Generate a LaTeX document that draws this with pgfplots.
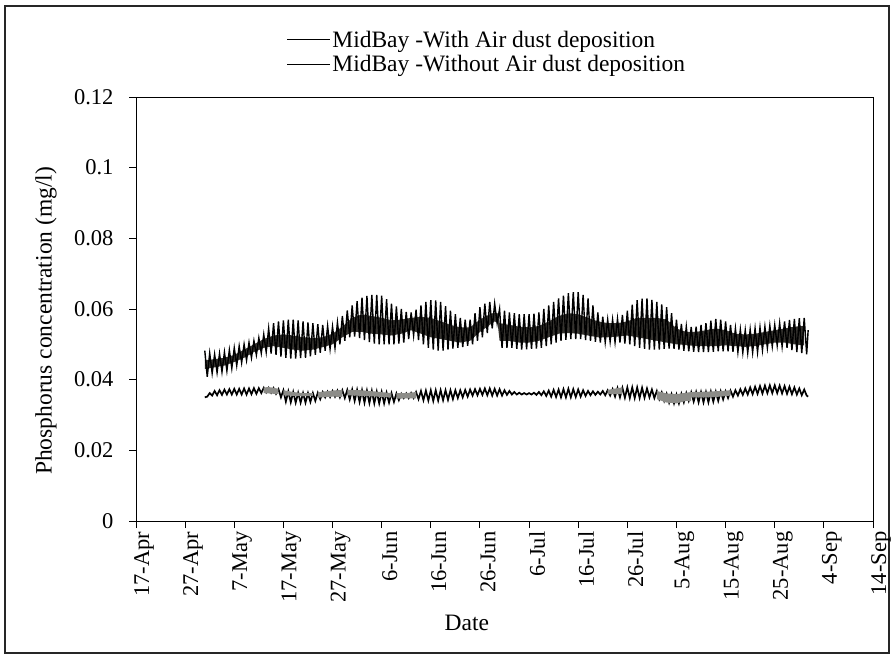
\documentclass[border=0pt]{standalone}
\usepackage{pgfplots}
\pgfplotsset{compat=1.18}
\usepackage{fontspec}
\setmainfont{Liberation Serif}
\newcommand{\fs}{\fontsize{22.5bp}{26bp}\selectfont}
\newcommand{\fl}{\fontsize{23.5bp}{27bp}\selectfont}
\definecolor{coregray}{HTML}{35332F}
\definecolor{lgray}{HTML}{8C8C88}
\begin{document}
\begin{tikzpicture}
\useasboundingbox (0,0) rectangle (891bp,656bp);
\draw[line width=2bp, black!85] (5bp,650bp) rectangle (889bp,3bp);
\begin{axis}[
  at={(136bp,135bp)}, anchor=south west,
  scale only axis, width=737bp, height=424bp,
  xmin=0, xmax=150, ymin=0, ymax=0.12,
  xtick={0,10,20,30,40,50,60,70,80,90,100,110,120,130,140,150},
  xticklabels={17-Apr,27-Apr,7-May,17-May,27-May,6-Jun,16-Jun,26-Jun,6-Jul,16-Jul,26-Jul,5-Aug,15-Aug,25-Aug,4-Sep,14-Sep},
  ytick={0,0.02,0.04,0.06,0.08,0.1,0.12},
  yticklabels={0,0.02,0.04,0.06,0.08,0.1,0.12},
  tick pos=left, tick align=outside, major tick length=7bp,
  axis line style={line width=0.9bp},
  tick style={line width=0.9bp, black},
  xticklabel style={rotate=90, anchor=east, font=\fs, yshift=-8bp},
  yticklabel style={font=\fs, xshift=-12bp},
  xlabel={Date}, ylabel={Phosphorus concentration (mg/l)},
  x label style={at={(axis description cs:0.449,0)}, anchor=center, yshift=-102bp, font=\fl},
  y label style={at={(axis description cs:-0.1221,0.472)}, anchor=center, font=\fl},
  legend style={at={(0.2,1.165)}, anchor=north west, draw=none, fill=none, font=\fl,
    row sep=4bp, nodes={inner sep=1.5bp}},
  legend cell align=left,
  legend image code/.code={\draw[#1, line width=1.3bp] (0bp,0bp) -- (43bp,0bp);},
]
\addlegendimage{black}
\addlegendimage{black}
% upper core band
\addplot[fill=coregray, draw=none, forget plot] coordinates {
(14,.0455)(16,.0458)(18,.0462)(20,.0470)(22,.0485)(24,.0500)(26,.0515)(28,.0525)(30,.0528)(32,.0525)(34,.0520)(36,.0518)(38,.0520)(40,.0530)(42,.0550)(44,.0575)(46,.0585)(48,.0580)(50,.0575)(52,.0568)(54,.0570)(56,.0575)(58,.0578)(60,.0575)(62,.0565)(64,.0555)(66,.0548)(68,.0548)(70,.0570)(72,.0585)(73,.0590)(73.6,.0588)(74,.0560)(76,.0555)(78,.0550)(80,.0548)(82,.0552)(84,.0565)(86,.0580)(88,.0588)(90,.0585)(92,.0575)(94,.0565)(96,.0560)(98,.0560)(100,.0565)(102,.0575)(104,.0575)(106,.0575)(108,.0570)(110,.0545)(112,.0535)(114,.0535)(116,.0540)(118,.0545)(120,.0540)(122,.0530)(124,.0528)(126,.0530)(128,.0535)(130,.0540)(132,.0545)(134,.0550)(136,.0552)
(136,.0497)(134,.0500)(132,.0505)(130,.0505)(128,.0500)(126,.0495)(124,.0493)(122,.0495)(120,.0497)(118,.0495)(116,.0495)(114,.0495)(112,.0498)(110,.0500)(108,.0505)(106,.0510)(104,.0515)(102,.0520)(100,.0525)(98,.0522)(96,.0520)(94,.0520)(92,.0525)(90,.0530)(88,.0532)(86,.0530)(84,.0520)(82,.0510)(80,.0505)(78,.0505)(76,.0510)(74,.0510)(73.6,.0560)(73,.0565)(72,.0555)(70,.0535)(68,.0510)(66,.0505)(64,.0510)(62,.0515)(60,.0520)(58,.0530)(56,.0540)(54,.0530)(52,.0525)(50,.0528)(48,.0530)(46,.0535)(44,.0535)(42,.0520)(40,.0500)(38,.0492)(36,.0485)(34,.0482)(32,.0485)(30,.0490)(28,.0495)(26,.0490)(24,.0478)(22,.0462)(20,.0450)(18,.0440)(16,.0435)(14,.0430)};
% upper series (with air dust deposition)
\addplot[black, line width=1.4bp, forget plot] coordinates {
(14,.0482)(14.5,.0408)(15,.0475)(15.5,.0418)(16,.0472)(16.5,.0420)(17,.0474)(17.5,.0422)(18,.0478)(18.5,.0425)(19,.0484)(19.5,.0432)(20,.0490)(20.5,.0440)(21,.0495)(21.5,.0448)(22,.0500)(22.5,.0455)(23,.0505)(23.5,.0462)(24,.0510)(24.5,.0470)(25,.0518)(25.5,.0475)(26,.0528)(26.5,.0478)(27,.0545)(27.5,.0474)(28,.0560)(28.5,.0470)(29,.0565)(29.5,.0465)(30,.0568)(30.5,.0462)(31,.0570)(31.5,.0460)(32,.0570)(32.5,.0460)(33,.0568)(33.5,.0461)(34,.0565)(34.5,.0462)(35,.0562)(35.5,.0466)(36,.0560)(36.5,.0470)(37,.0557)(37.5,.0476)(38,.0555)(38.5,.0482)(39,.0552)(39.5,.0487)(40,.0550)(40.5,.0490)(41,.0562)(41.5,.0500)(42,.0580)(42.5,.0510)(43,.0596)(43.5,.0520)(44,.0610)(44.5,.0522)(45,.0622)(45.5,.0518)(46,.0632)(46.5,.0512)(47,.0637)(47.5,.0506)(48,.0640)(48.5,.0502)(49,.0640)(49.5,.0500)(50,.0638)(50.5,.0500)(51,.0628)(51.5,.0500)(52,.0615)(52.5,.0500)(53,.0607)(53.5,.0502)(54,.0600)(54.5,.0505)(55,.0592)(55.5,.0515)(56,.0590)(56.5,.0525)(57,.0598)(57.5,.0512)(58,.0610)(58.5,.0500)(59,.0620)(59.5,.0490)(60,.0625)(60.5,.0485)(61,.0624)(61.5,.0482)(62,.0620)(62.5,.0482)(63,.0608)(63.5,.0485)(64,.0595)(64.5,.0488)(65,.0585)(65.5,.0490)(66,.0575)(66.5,.0492)(67,.0570)(67.5,.0496)(68,.0570)(68.5,.0500)(69,.0588)(69.5,.0510)(70,.0605)(70.5,.0520)(71,.0615)(71.5,.0532)(72,.0620)(72.5,.0545)(73,.0615)(73.5,.0560)(74,.0600)(74.5,.0490)(75,.0595)(75.5,.0490)(76,.0590)(76.5,.0490)(77,.0588)(77.5,.0487)(78,.0585)(78.5,.0485)(79,.0585)(79.5,.0486)(80,.0585)(80.5,.0487)(81,.0587)(81.5,.0488)(82,.0590)(82.5,.0490)(83,.0600)(83.5,.0495)(84,.0610)(84.5,.0500)(85,.0620)(85.5,.0505)(86,.0630)(86.5,.0510)(87,.0638)(87.5,.0513)(88,.0645)(88.5,.0515)(89,.0648)(89.5,.0515)(90,.0648)(90.5,.0515)(91,.0640)(91.5,.0512)(92,.0630)(92.5,.0510)(93,.0610)(93.5,.0507)(94,.0590)(94.5,.0505)(95,.0578)(95.5,.0506)(96,.0570)(96.5,.0508)(97,.0570)(97.5,.0506)(98,.0572)(98.5,.0505)(99,.0583)(99.5,.0502)(100,.0595)(100.5,.0500)(101,.0612)(101.5,.0495)(102,.0625)(102.5,.0490)(103,.0629)(103.5,.0487)(104,.0630)(104.5,.0485)(105,.0626)(105.5,.0485)(106,.0620)(106.5,.0485)(107,.0613)(107.5,.0487)(108,.0605)(108.5,.0488)(109,.0588)(109.5,.0487)(110,.0570)(110.5,.0485)(111,.0558)(111.5,.0482)(112,.0550)(112.5,.0480)(113,.0549)(113.5,.0479)(114,.0550)(114.5,.0478)(115,.0555)(115.5,.0478)(116,.0560)(116.5,.0478)(117,.0567)(117.5,.0479)(118,.0572)(118.5,.0480)(119,.0570)(119.5,.0480)(120,.0565)(120.5,.0480)(121,.0555)(121.5,.0479)(122,.0545)(122.5,.0478)(123,.0542)(123.5,.0477)(124,.0540)(124.5,.0476)(125,.0542)(125.5,.0477)(126,.0545)(126.5,.0478)(127,.0548)(127.5,.0484)(128,.0550)(128.5,.0490)(129,.0553)(129.5,.0494)(130,.0555)(130.5,.0497)(131,.0560)(131.5,.0494)(132,.0565)(132.5,.0490)(133,.0569)(133.5,.0484)(134,.0572)(134.5,.0478)(135,.0574)(135.5,.0475)(136,.0575)(136.5,.0472)(136.8,.0540)};
% lower series (without air dust deposition)
\addplot[black, line width=1.7bp, forget plot] coordinates {
(14,.0350)(14.5,.0352)(15,.0362)(15.5,.0355)(16,.0368)(16.5,.0356)(17,.0370)(17.5,.0357)(18,.0372)(18.5,.0358)(19,.0373)(19.5,.0358)(20,.0374)(20.5,.0358)(21,.0374)(21.5,.0358)(22,.0375)(22.5,.0358)(23,.0375)(23.5,.0359)(24,.0376)(24.5,.0360)(25,.0376)(25.5,.0362)(26,.0377)(26.5,.0364)(27,.0377)(27.5,.0363)(28,.0376)(28.5,.0360)(29,.0373)(29.5,.0350)(30,.0370)(30.5,.0338)(31,.0367)(31.5,.0336)(32,.0365)(32.5,.0335)(33,.0363)(33.5,.0335)(34,.0362)(34.5,.0335)(35,.0362)(35.5,.0337)(36,.0362)(36.5,.0340)(37,.0363)(37.5,.0345)(38,.0365)(38.5,.0350)(39,.0366)(39.5,.0351)(40,.0368)(40.5,.0352)(41,.0369)(41.5,.0350)(42,.0370)(42.5,.0348)(43,.0371)(43.5,.0344)(44,.0372)(44.5,.0340)(45,.0371)(45.5,.0337)(46,.0370)(46.5,.0335)(47,.0369)(47.5,.0334)(48,.0368)(48.5,.0333)(49,.0366)(49.5,.0333)(50,.0365)(50.5,.0333)(51,.0363)(51.5,.0335)(52,.0362)(52.5,.0337)(53,.0361)(53.5,.0342)(54,.0360)(54.5,.0348)(55,.0361)(55.5,.0348)(56,.0362)(56.5,.0348)(57,.0365)(57.5,.0345)(58,.0368)(58.5,.0342)(59,.0369)(59.5,.0341)(60,.0370)(60.5,.0340)(61,.0370)(61.5,.0341)(62,.0370)(62.5,.0342)(63,.0370)(63.5,.0343)(64,.0370)(64.5,.0345)(65,.0370)(65.5,.0348)(66,.0370)(66.5,.0350)(67,.0371)(67.5,.0352)(68,.0372)(68.5,.0355)(69,.0373)(69.5,.0356)(70,.0374)(70.5,.0357)(71,.0375)(71.5,.0356)(72,.0375)(72.5,.0355)(73,.0374)(73.5,.0355)(74,.0373)(74.5,.0355)(75,.0370)(75.5,.0357)(76,.0368)(76.5,.0358)(77,.0365)(77.5,.0358)(78,.0363)(78.5,.0358)(79,.0362)(79.5,.0358)(80,.0362)(80.5,.0358)(81,.0363)(81.5,.0357)(82,.0365)(82.5,.0356)(83,.0367)(83.5,.0354)(84,.0369)(84.5,.0352)(85,.0371)(85.5,.0351)(86,.0372)(86.5,.0350)(87,.0373)(87.5,.0350)(88,.0374)(88.5,.0350)(89,.0373)(89.5,.0351)(90,.0372)(90.5,.0352)(91,.0370)(91.5,.0354)(92,.0368)(92.5,.0356)(93,.0367)(93.5,.0357)(94,.0366)(94.5,.0358)(95,.0368)(95.5,.0356)(96,.0370)(96.5,.0355)(97,.0373)(97.5,.0352)(98,.0376)(98.5,.0350)(99,.0377)(99.5,.0349)(100,.0378)(100.5,.0348)(101,.0378)(101.5,.0348)(102,.0378)(102.5,.0348)(103,.0377)(103.5,.0349)(104,.0375)(104.5,.0350)(105,.0372)(105.5,.0348)(106,.0368)(106.5,.0345)(107,.0364)(107.5,.0340)(108,.0360)(108.5,.0335)(109,.0359)(109.5,.0333)(110,.0358)(110.5,.0333)(111,.0360)(111.5,.0336)(112,.0362)(112.5,.0340)(113,.0364)(113.5,.0338)(114,.0365)(114.5,.0336)(115,.0365)(115.5,.0336)(116,.0365)(116.5,.0336)(117,.0366)(117.5,.0338)(118,.0366)(118.5,.0340)(119,.0367)(119.5,.0344)(120,.0367)(120.5,.0348)(121,.0369)(121.5,.0352)(122,.0370)(122.5,.0355)(123,.0373)(123.5,.0357)(124,.0375)(124.5,.0358)(125,.0378)(125.5,.0359)(126,.0380)(126.5,.0360)(127,.0382)(127.5,.0361)(128,.0383)(128.5,.0362)(129,.0384)(129.5,.0362)(130,.0384)(130.5,.0362)(131,.0383)(131.5,.0361)(132,.0382)(132.5,.0360)(133,.0380)(133.5,.0359)(134,.0378)(134.5,.0358)(135,.0375)(135.5,.0356)(136,.0372)(136.5,.0355)(136.8,.0352)};
% gray overlays on lower band
\addplot[fill=lgray, draw=none, forget plot] coordinates {(26,.0378)(27,.0379)(28,.0377)(29,.0374)(29,.0360)(28,.0360)(27,.0361)(26,.0362)};
\addplot[fill=lgray, draw=none, forget plot] coordinates {(30,.0370)(32,.0365)(34,.0362)(36,.0362)(36,.0354)(34,.0353)(32,.0354)(30,.0356)};
\addplot[fill=lgray, draw=none, forget plot] coordinates {(37,.0364)(38,.0366)(40,.0369)(42,.0371)(42,.0351)(40,.0352)(38,.0350)(37,.0349)};
\addplot[fill=lgray, draw=none, forget plot] coordinates {(43,.0371)(46,.0370)(49,.0366)(52,.0362)(52,.0350)(49,.0352)(46,.0354)(43,.0356)};
\addplot[fill=lgray, draw=none, forget plot] coordinates {(53,.0362)(55,.0362)(57,.0365)(57,.0347)(55,.0347)(53,.0346)};
\addplot[fill=lgray, draw=none, forget plot] coordinates {(96,.0371)(98,.0376)(99,.0378)(99,.0359)(98,.0359)(96,.0359)};
\addplot[fill=lgray, draw=none, forget plot] coordinates {(106,.0368)(108,.0361)(110,.0359)(112,.0363)(113,.0365)(113,.0339)(112,.0340)(110,.0333)(108,.0335)(106,.0345)};
\addplot[fill=lgray, draw=none, forget plot] coordinates {(113,.0365)(116,.0366)(119,.0368)(121,.0370)(121,.0355)(119,.0352)(116,.0350)(113,.0350)};
\legend{MidBay -With Air dust deposition, MidBay -Without Air dust deposition}
\end{axis}
\end{tikzpicture}
\end{document}
